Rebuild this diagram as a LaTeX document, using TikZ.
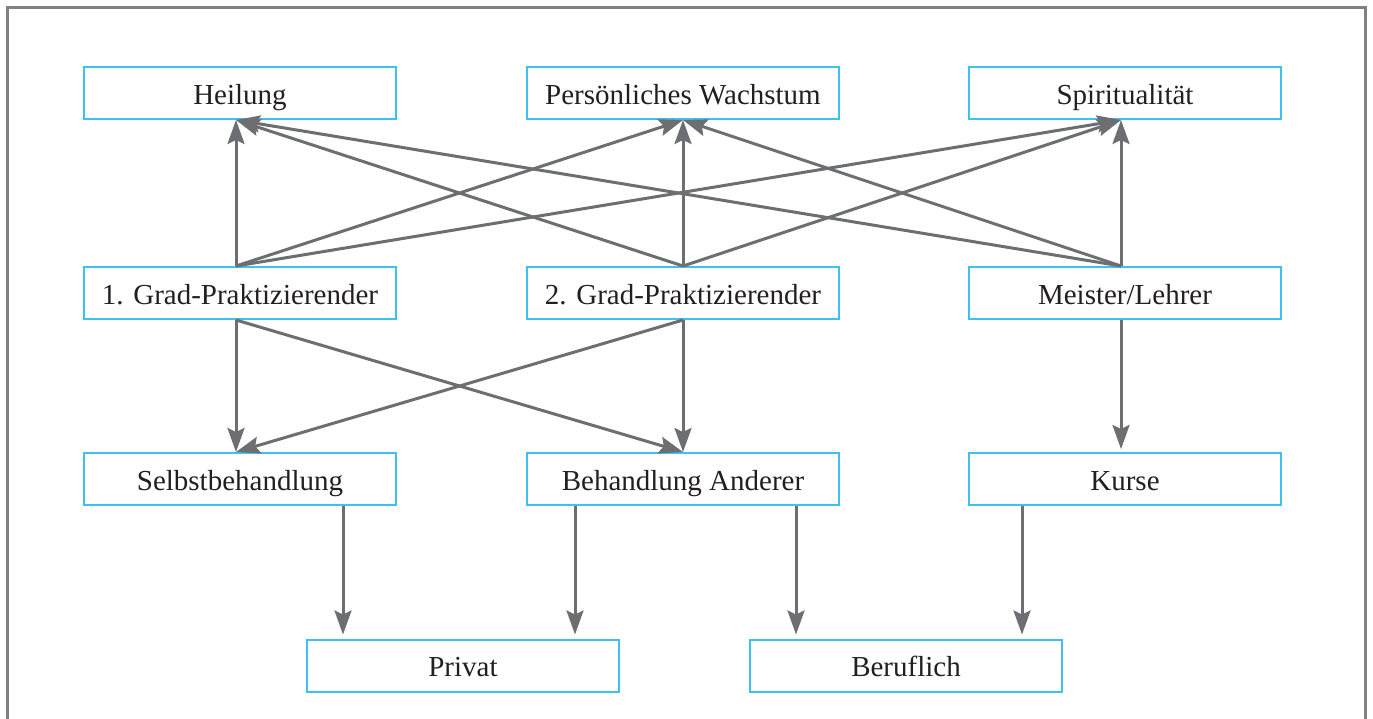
\documentclass[tikz,border=0pt]{standalone}
\usepackage{fontspec}
\setmainfont{Liberation Serif}
\usetikzlibrary{arrows.meta,calc}
\definecolor{boxcyan}{HTML}{3EC1EE}
\definecolor{arrgray}{HTML}{6D6E71}
\definecolor{framegray}{HTML}{808184}
\definecolor{txt}{HTML}{231F20}
\begin{document}
\begin{tikzpicture}[x=1pt,y=-1pt,
  box/.style={draw=boxcyan,line width=2pt,minimum width=312pt,minimum height=52pt,inner sep=0pt,
    text=txt,font=\fontsize{29}{34}\selectfont,text height=22pt,text depth=0pt},
  arr/.style={draw=arrgray,line width=3pt,arrows={-Stealth[length=24pt,width=17pt,inset=4pt]}}]
\useasboundingbox (0,0) rectangle (1373,718);
\draw[framegray,line width=3pt] (7.5,720) -- (7.5,7.5) -- (1365.5,7.5) -- (1365.5,720);
% row 1
\node[box] (h) at (240,93) {Heilung};
\node[box] (p) at (683,93) {Persönliches Wachstum};
\node[box] (s) at (1125,93) {Spiritualität};
% row 2
\node[box] (g1) at (240,293) {1. Grad-Praktizierender};
\node[box] (g2) at (683,293) {2. Grad-Praktizierender};
\node[box] (m) at (1125,293) {Meister/Lehrer};
% row 3
\node[box] (sb) at (240,479) {Selbstbehandlung};
\node[box] (ba) at (683,479) {Behandlung Anderer};
\node[box] (k) at (1125,479) {Kurse};
% row 4
\node[box] (pr) at (463,665.5) {Privat};
\node[box] (be) at (906,665.5) {Beruflich};
% anchor points
\coordinate (hb) at ([xshift=-4pt]h.south);
\coordinate (pb) at (p.south);
\coordinate (sbt) at ([xshift=-4pt]s.south);
\coordinate (g1t) at ([xshift=-4pt]g1.north);
\coordinate (g2t) at (g2.north);
\coordinate (mt) at ([xshift=-4pt]m.north);
\coordinate (g1b) at ([xshift=-4pt]g1.south);
\coordinate (g2b) at (g2.south);
\coordinate (mb) at ([xshift=-4pt]m.south);
\coordinate (sbn) at ([xshift=-4pt]sb.north);
\coordinate (ban) at (ba.north);
\coordinate (kn) at ([xshift=-4pt]k.north);
% upper arrows
\foreach \a in {g1t,g2t,mt}{
  \foreach \b in {hb,pb,sbt}{
    \draw[arr] (\a) -- (\b);
  }
}
% middle arrows
\draw[arr] (g1b) -- (sbn);
\draw[arr] (g1b) -- (ban);
\draw[arr] (g2b) -- (sbn);
\draw[arr] (g2b) -- (ban);
\draw[arr,shorten >=3pt] (mb) -- (kn);
% lower arrows
\draw[arr,shorten >=4pt] ([xshift=103pt]sb.south) -- ([xshift=-120pt]pr.north);
\draw[arr,shorten >=4pt] ([xshift=-108pt]ba.south) -- ([xshift=112pt]pr.north);
\draw[arr,shorten >=4pt] ([xshift=113pt]ba.south) -- ([xshift=-110pt]be.north);
\draw[arr,shorten >=4pt] ([xshift=-103pt]k.south) -- ([xshift=116pt]be.north);
\end{tikzpicture}
\end{document}
